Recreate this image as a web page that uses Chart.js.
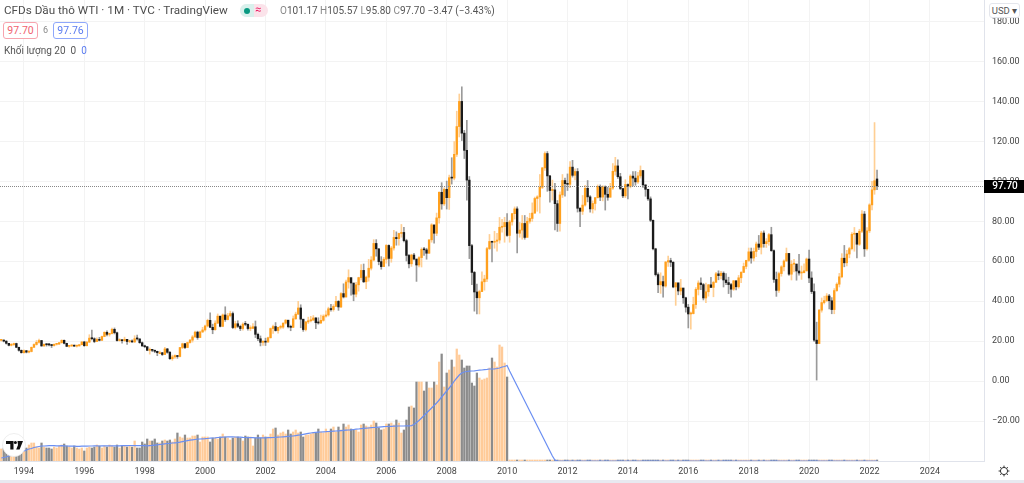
<!DOCTYPE html>
<html lang="vi">
<head>
    <meta charset="UTF-8">
    <title>CFDs Dầu thô WTI</title>
    <script src="https://cdn.jsdelivr.net/npm/chart.js"></script>
    <style>
        html, body { margin: 0; padding: 0; background: #fff; overflow: hidden; }
        body { width: 1024px; height: 483px; position: relative; font-family: Roboto, 'Liberation Sans', sans-serif; color: #4a4a4a; }
        canvas { position: absolute; left: 0; top: 0; }
        .txt { position: absolute; white-space: nowrap; }
        .title { left: 4px; top: 3px; font-size: 11.7px; line-height: 15px; color: #4d4d4d; }
        .ohlc { left: 280px; top: 4px; font-size: 10px; line-height: 14px; color: #555; }
        .ohlc i { font-style: normal; color: #888; }
        .pill { position: absolute; left: 240px; top: 4px; width: 28px; height: 13px; border-radius: 7px; overflow: hidden; background: #fbe3ea; }
        .pill .g { position: absolute; left: 0; top: 0; width: 14px; height: 13px; background: #d8f1ec; }
        .pill .d { position: absolute; left: 4px; top: 3.5px; width: 6px; height: 6px; border-radius: 50%; background: #089981; }
        .pill .w { position: absolute; left: 15px; top: -1px; font-size: 11px; line-height: 14px; color: #e91e63; }
        .box { position: absolute; top: 22px; width: 33px; height: 15px; border-radius: 3px; background: #fff; font-size: 10.5px; line-height: 15px; text-align: center; }
        .red { left: 3px; border: 1px solid #f7a4ae; color: #f0626f; }
        .blue { left: 53px; border: 1px solid #8fa8fb; color: #5b7cf0; }
        .spread { left: 43px; top: 24px; font-size: 9px; line-height: 12px; color: #888; }
        .vol { left: 4px; top: 44px; font-size: 10px; line-height: 13px; color: #555; }
        .vol b { font-weight: normal; color: #5b7cf0; }
        .usd { left: 989px; top: 3px; width: 29px; height: 13px; border: 1px solid #e4e6ec; border-radius: 3px; background: #fff; font-size: 9.5px; line-height: 13px; text-align: center; color: #555; }
        .strip { position: absolute; left: 0; top: 480px; width: 1024px; height: 3px; background: #e8e9f0; }
        .logo { position: absolute; left: 2px; top: 433px; width: 24px; height: 24px; }
        .gear { position: absolute; left: 998px; top: 465px; width: 12px; height: 12px; }
    </style>
</head>
<body>
    <canvas id="oilChart" width="1024" height="483"></canvas>

    <div class="txt title">CFDs Dầu thô WTI · 1M · TVC · TradingView</div>
    <div class="pill"><div class="g"></div><div class="d"></div><div class="w">≈</div></div>
    <div class="txt ohlc"><i>O</i>101.17 <i>H</i>105.57 <i>L</i>95.80 <i>C</i>97.70 −3.47 (−3.43%)</div>
    <div class="box red">97.70</div>
    <div class="txt spread">6</div>
    <div class="box blue">97.76</div>
    <div class="txt vol">Khối lượng 20 &nbsp;0 &nbsp;<b>0</b></div>
    <div class="txt usd">USD ▾</div>

    <svg class="logo" viewBox="0 0 24 24">
        <circle cx="12" cy="12" r="11.5" fill="#fff" stroke="#e6e6e6" stroke-width="0.7"/>
        <path d="M4 8h7.5v8.5H8.3V11H4z M15.5 8h5.5l-3.4 8.5h-3.4l1.8-4.6z" fill="#111"/>
        <circle cx="13.4" cy="9.6" r="1.5" fill="#111"/>
    </svg>
    <svg class="gear" viewBox="0 0 12 12" fill="none" stroke="#333" stroke-width="1">
        <circle cx="6" cy="6" r="3.6"/>
        <path d="M6 0.6v1.8M6 9.6v1.8M0.6 6h1.8M9.6 6h1.8M2.2 2.2l1.2 1.2M8.6 8.6l1.2 1.2M2.2 9.8l1.2-1.2M8.6 3.4l1.2-1.2"/>
    </svg>
    <div class="strip"></div>

    <script>
        // Monthly bars from Apr 1993 to Apr 2022, one row per year
        const opens = [
            20.4,20.5,20.0,18.9,17.9,18.3,18.8,16.9,15.4,
            14.2,15.2,14.5,14.8,16.9,18.3,19.4,20.3,17.6,18.4,18.2,18.1,
            17.8,18.4,18.5,19.2,20.4,18.9,17.4,17.6,17.8,17.5,17.6,18.2,
            19.6,17.7,19.5,21.5,21.2,19.8,20.9,20.4,22.3,24.4,23.4,23.8,
            25.9,24.2,20.3,20.4,20.2,20.9,19.8,20.1,19.6,21.2,21.1,19.2,
            17.6,17.2,15.4,15.6,15.4,14.9,14.2,14.2,13.3,16.1,14.4,11.2,
            12.1,12.8,12.3,16.8,18.7,16.8,19.3,20.5,22.1,24.5,21.8,24.6,
            25.6,27.6,30.4,26.9,25.7,29.0,32.5,27.4,33.1,30.8,32.7,33.8,
            26.8,28.7,27.4,26.3,28.5,28.4,26.3,26.4,27.2,23.4,21.2,19.4,
            19.8,19.5,21.7,26.3,27.3,25.3,26.9,27.0,29.0,30.5,27.2,26.9,
            31.2,33.5,36.6,31.0,25.8,29.6,30.2,30.5,31.6,29.2,29.1,30.4,
            32.5,33.1,36.2,35.8,37.4,39.9,37.1,43.8,42.1,49.6,51.8,49.1,
            43.5,48.2,51.8,55.4,49.7,52.0,56.5,60.6,68.9,66.2,59.8,57.3,
            61.0,67.9,61.4,66.6,71.9,71.3,73.9,74.4,70.3,62.9,58.7,63.1,
            61.1,58.1,61.8,65.9,65.7,64.0,70.7,78.2,74.0,81.7,94.5,88.7,
            96.0,91.8,101.8,101.6,113.5,127.4,140.0,124.1,115.5,100.6,67.8,54.4,
            44.6,41.7,44.8,49.7,51.1,66.3,69.9,69.5,70.0,70.6,77.0,77.3,
            79.4,72.9,79.7,83.8,86.2,74.0,75.6,78.9,71.9,80.0,81.4,84.1,
            91.4,92.2,97.0,106.7,113.9,102.7,95.4,95.7,88.8,78.9,93.2,100.4,
            98.8,98.5,107.1,103.0,104.9,86.5,85.0,88.1,96.5,92.2,86.2,88.9,
            91.8,97.5,92.1,97.2,93.5,92.0,96.6,105.0,107.7,102.3,96.4,92.7,
            98.4,97.5,102.6,101.6,99.7,102.7,105.4,98.2,96.0,91.2,80.5,66.2,
            53.3,48.2,49.8,47.6,59.6,60.3,59.5,47.1,49.2,45.1,46.6,41.7,
            37.0,33.6,33.8,38.3,45.9,49.1,48.3,41.6,44.7,48.2,46.9,49.4,
            53.7,52.8,54.0,50.6,49.3,48.3,46.0,50.2,47.2,51.7,54.4,57.4,
            60.4,64.7,61.6,64.9,68.6,67.0,74.1,68.8,69.8,73.3,65.3,50.9,
            45.4,53.8,57.2,60.1,63.9,53.5,58.5,58.6,55.1,54.1,54.2,55.2,
            61.1,51.6,44.8,20.5,18.8,35.5,39.3,40.3,42.6,40.2,35.8,45.3,
            48.5,52.2,61.5,59.2,63.6,66.3,73.5,74.0,68.5,75.0,83.6,66.2,
            75.2,88.2,95.7,101.17
        ];
        const highs = [
            20.8,20.7,20.2,18.9,18.8,19.0,19.0,17.0,15.6,
            15.6,15.4,15.2,17.1,18.6,20.3,21.0,20.4,18.6,18.7,18.9,18.2,
            18.7,18.9,19.4,20.7,20.6,19.0,17.9,18.1,18.0,17.9,18.4,19.7,
            19.9,19.9,23.2,25.5,21.7,21.6,21.9,22.5,24.7,25.2,24.0,26.5,
            26.6,24.5,21.2,20.8,22.0,20.9,20.5,20.6,22.7,23.0,21.2,19.6,
            18.0,17.3,16.6,15.9,15.6,15.0,15.0,14.4,16.9,16.4,14.9,13.0,
            13.1,12.9,16.9,19.0,18.9,19.5,20.9,22.8,25.0,25.0,25.0,26.9,
            28.0,31.0,34.2,28.5,30.2,33.6,32.5,33.6,37.2,33.9,35.0,34.6,
            30.0,30.2,28.0,29.2,29.9,28.6,27.7,28.8,30.1,24.0,22.6,20.3,
            21.5,22.0,26.6,28.0,29.3,27.0,28.0,29.2,30.8,30.2,28.0,32.6,
            34.5,39.9,38.2,30.7,29.9,32.0,32.4,32.8,31.8,31.7,33.0,33.2,
            35.2,37.0,38.4,38.3,42.4,40.3,44.3,48.7,50.5,55.7,50.8,46.0,
            49.4,52.0,58.3,58.6,52.5,60.9,62.3,70.8,70.8,66.3,62.3,61.9,
            68.4,68.2,67.4,75.4,74.7,74.1,78.4,76.9,71.0,63.5,63.5,64.0,
            58.5,62.3,66.7,67.0,66.5,70.7,78.8,76.0,84.1,94.7,99.3,96.8,
            100.1,103.1,111.8,119.9,135.1,143.7,147.3,125.5,130.5,102.4,68.5,54.9,
            48.6,45.5,54.7,53.0,66.9,73.4,69.9,75.0,73.9,81.9,81.0,82.0,
            83.9,80.5,84.0,87.2,87.2,79.4,82.9,82.9,82.0,84.0,89.2,92.1,
            92.8,103.4,107.0,114.8,114.9,103.0,100.6,99.0,90.4,94.7,103.4,101.6,
            103.7,109.9,110.5,106.2,106.4,86.9,92.9,98.0,100.4,92.8,90.2,91.9,
            98.2,98.2,97.8,97.7,97.0,99.0,108.9,112.0,110.7,104.0,95.5,100.8,
            98.7,103.3,104.9,104.9,104.5,107.7,105.4,98.2,95.7,92.2,80.6,66.5,
            54.2,54.2,52.5,59.9,62.6,61.5,59.7,49.3,48.4,50.9,43.4,42.0,
            38.4,34.6,42.0,46.8,50.2,51.7,48.9,49.0,48.4,51.9,50.0,54.4,
            55.2,54.9,54.7,53.8,52.0,48.9,50.4,50.2,52.9,54.8,59.1,60.5,
            66.6,66.6,66.6,69.6,72.9,75.0,75.2,71.3,73.9,77.0,65.7,54.6,
            54.6,57.8,60.7,66.6,63.9,60.3,60.9,57.5,63.4,57.6,58.7,61.6,
            65.6,54.7,48.7,29.5,35.9,41.6,42.5,43.8,43.4,41.8,46.3,49.2,
            53.9,63.8,67.9,65.5,67.0,74.3,76.9,74.0,76.0,85.4,84.9,76.8,
            88.8,100.0,129.4,105.57
        ];
        const lows = [
            20.0,19.6,18.5,17.6,17.6,17.8,16.7,15.0,14.0,
            14.0,14.1,14.1,14.6,16.8,18.0,19.0,17.4,17.3,17.5,17.6,16.8,
            17.5,18.0,18.3,19.0,18.6,17.2,16.9,17.3,17.3,17.0,17.5,18.1,
            17.4,17.6,19.3,20.6,19.2,19.7,20.1,20.3,22.2,22.6,22.5,23.6,
            23.6,20.0,20.0,19.0,19.9,18.3,19.2,19.3,19.3,20.5,18.9,17.4,
            16.7,15.2,13.5,14.7,14.2,12.7,13.9,12.8,13.2,13.9,10.8,10.4,
            11.3,11.4,12.1,16.2,16.2,16.7,19.0,19.5,21.8,20.9,21.7,24.3,
            25.0,27.1,26.8,23.7,25.5,28.8,27.1,27.2,29.9,30.6,32.1,26.2,
            26.0,26.8,25.3,25.5,27.7,25.5,25.2,26.2,21.8,20.2,17.6,17.9,
            17.8,19.6,21.5,23.8,25.0,24.0,26.1,26.3,28.5,26.6,25.2,26.8,
            30.9,33.3,26.7,24.9,25.1,28.8,29.6,30.4,26.2,28.5,28.7,30.0,
            32.0,32.5,35.0,35.0,37.4,35.4,36.8,41.6,42.0,46.5,43.0,40.2,
            42.1,45.0,50.6,49.3,46.2,50.0,55.6,60.1,62.5,58.2,56.0,57.5,
            59.0,57.6,59.5,65.5,68.0,68.0,72.0,69.6,60.1,56.6,57.4,60.6,
            49.9,57.2,57.1,62.9,61.0,63.9,69.5,69.0,72.8,79.0,86.0,87.9,
            86.1,85.9,98.6,100.7,112.4,122.2,120.4,111.4,90.5,61.3,48.3,35.0,
            33.6,33.6,44.9,45.5,49.8,65.8,59.6,66.5,65.0,69.0,74.5,69.5,
            72.4,69.5,78.0,81.1,64.2,72.0,71.0,71.0,72.9,79.0,79.9,83.9,
            85.0,84.1,96.3,105.5,95.0,89.6,90.6,75.7,74.9,75.0,91.9,92.5,
            95.4,96.8,102.1,100.7,84.6,77.3,83.4,87.5,89.7,84.6,84.1,85.6,
            91.6,90.3,90.2,85.6,90.5,92.2,95.9,103.1,101.4,95.8,91.8,91.8,
            91.2,96.7,97.7,98.0,98.9,101.6,96.9,92.5,90.4,79.8,65.7,52.6,
            44.2,43.9,42.0,47.0,57.4,57.3,46.7,37.9,43.2,43.2,38.9,34.5,
            26.6,26.0,33.6,36.4,43.1,45.8,40.6,39.2,42.5,46.8,42.2,49.9,
            50.7,51.2,47.1,48.2,43.8,42.0,45.4,45.6,46.5,49.2,54.3,56.2,
            59.8,59.0,60.1,62.3,65.8,63.6,67.0,66.9,68.0,64.9,49.4,42.4,
            44.4,52.5,55.1,59.9,52.9,50.6,54.6,50.5,53.0,50.9,54.8,55.0,
            49.3,43.8,19.9,0.5,18.7,34.5,38.6,39.7,36.1,33.7,33.7,44.9,
            47.1,51.7,57.2,57.6,61.7,65.7,65.0,61.7,67.9,74.3,62.4,65.5,
            74.3,85.7,93.5,95.8
        ];
        const closes = [
            20.5,20.0,18.9,17.9,18.3,18.8,16.9,15.4,14.2,
            15.2,14.5,14.8,16.9,18.3,19.4,20.3,17.6,18.4,18.2,18.1,17.8,
            18.4,18.5,19.2,20.4,18.9,17.4,17.6,17.8,17.5,17.6,18.2,19.6,
            17.7,19.5,21.5,21.2,19.8,20.9,20.4,22.3,24.4,23.4,23.8,25.9,
            24.2,20.3,20.4,20.2,20.9,19.8,20.1,19.6,21.2,21.1,19.2,17.6,
            17.2,15.4,15.6,15.4,14.9,14.2,14.2,13.3,16.1,14.4,11.2,12.1,
            12.8,12.3,16.8,18.7,16.8,19.3,20.5,22.1,24.5,21.8,24.6,25.6,
            27.6,30.4,26.9,25.7,29.0,32.5,27.4,33.1,30.8,32.7,33.8,26.8,
            28.7,27.4,26.3,28.5,28.4,26.3,26.4,27.2,23.4,21.2,19.4,19.8,
            19.5,21.7,26.3,27.3,25.3,26.9,27.0,29.0,30.5,27.2,26.9,31.2,
            33.5,36.6,31.0,25.8,29.6,30.2,30.5,31.6,29.2,29.1,30.4,32.5,
            33.1,36.2,35.8,37.4,39.9,37.1,43.8,42.1,49.6,51.8,49.1,43.5,
            48.2,51.8,55.4,49.7,52.0,56.5,60.6,68.9,66.2,59.8,57.3,61.0,
            67.9,61.4,66.6,71.9,71.3,73.9,74.4,70.3,62.9,58.7,63.1,61.1,
            58.1,61.8,65.9,65.7,64.0,70.7,78.2,74.0,81.7,94.5,88.7,96.0,
            91.8,101.8,101.6,113.5,127.4,140.0,124.1,115.5,100.6,67.8,54.4,44.6,
            41.7,44.8,49.7,51.1,66.3,69.9,69.5,70.0,70.6,77.0,77.3,79.4,
            72.9,79.7,83.8,86.2,74.0,75.6,78.9,71.9,80.0,81.4,84.1,91.4,
            92.2,97.0,106.7,113.9,102.7,95.4,95.7,88.8,78.9,93.2,100.4,98.8,
            98.5,107.1,103.0,104.9,86.5,85.0,88.1,96.5,92.2,86.2,88.9,91.8,
            97.5,92.1,97.2,93.5,92.0,96.6,105.0,107.7,102.3,96.4,92.7,98.4,
            97.5,102.6,101.6,99.7,102.7,105.4,98.2,96.0,91.2,80.5,66.2,53.3,
            48.2,49.8,47.6,59.6,60.3,59.5,47.1,49.2,45.1,46.6,41.7,37.0,
            33.6,33.8,38.3,45.9,49.1,48.3,41.6,44.7,48.2,46.9,49.4,53.7,
            52.8,54.0,50.6,49.3,48.3,46.0,50.2,47.2,51.7,54.4,57.4,60.4,
            64.7,61.6,64.9,68.6,67.0,74.1,68.8,69.8,73.3,65.3,50.9,45.4,
            53.8,57.2,60.1,63.9,53.5,58.5,58.6,55.1,54.1,54.2,55.2,61.1,
            51.6,44.8,20.5,18.8,35.5,39.3,40.3,42.6,40.2,35.8,45.3,48.5,
            52.2,61.5,59.2,63.6,66.3,73.5,74.0,68.5,75.0,83.6,66.2,75.2,
            88.2,95.7,100.3,97.70
        ];

        // Volume pane has no labels, so values are in chart pixels above the baseline
        const volumes = [
            12,13,13,14,12,15,14,15,13,
            10,13,16,18,18,14,13,18,14,13,13,12,
            14,13,15,16,17,15,14,13,15,13,12,13,
            10,13,14,13,14,16,15,13,15,14,16,15,
            14,16,13,15,15,14,15,14,20,13,13,19,
            17,22,20,20,22,18,18,20,21,20,21,19,
            22,28,24,23,26,23,23,25,25,26,19,24,
            24,24,19,23,23,22,24,27,24,23,21,23,
            24,24,23,20,25,24,24,15,23,26,23,26,
            24,24,27,32,33,26,28,29,27,31,27,29,
            31,28,29,24,26,26,27,28,28,32,29,28,
            32,29,32,34,29,34,31,37,34,36,32,31,
            31,29,36,37,35,34,36,40,38,33,31,32,
            37,37,38,36,41,38,28,31,41,54,55,53,
            79,79,79,70,79,73,73,79,76,99,107,74,
            88,91,101,94,112,106,101,93,95,95,78,75,
            88,83,81,82,83,93,103,99,94,116,114,98,
            84,0,0,0,0,0,0,0,0,0,0,0,
            0,0,0,0,0,0,0,0,0,0,0,0,
            0,0,0,0,0,0,0,0,0,0,0,0,
            0,0,0,0,0,0,0,0,0,0,0,0,
            0,0,0,0,0,0,0,0,0,0,0,0,
            0,0,0,0,0,0,0,0,0,0,0,0,
            0,0,0,0,0,0,0,0,0,0,0,0,
            0,0,0,0,0,0,0,0,0,0,0,0,
            0,0,0,0,0,0,0,0,0,0,0,0,
            0,0,0,0,0,0,0,0,0,0,0,0,
            0,0,0,0,0,0,0,0,0,0,0,0,
            0,0,0,0,0,0,0,0,0,0,0,0,
            0,0,0,0
        ];
        const volumeMa = [
            3,3.5,4,5,5.5,6.5,7,8,9,
            10,11,12,12.5,13.5,14,14.5,15,15,15.2,15.3,15.3,
            15.3,15.2,15.2,15.3,15.2,15,14.9,14.8,14.8,14.7,14.7,14.8,
            14.8,14.9,15,15,15.1,15.1,15,15.1,15.2,15.2,15.1,15.2,
            15.2,15.1,15.2,15.3,15.4,15.4,15.5,15.5,15.4,15.4,15.3,15.3,
            15.3,15.2,15.4,15.6,15.9,16.2,16.5,16.8,17.2,17.5,17.7,18,
            18.2,18.4,18.8,19.3,19.8,20.3,20.8,21.2,21.5,21.8,22,22.2,
            22.3,22.5,22.8,23,23.2,23.5,23.7,23.9,24,24.1,24.1,24.1,
            24,23.9,23.8,23.6,23.5,23.4,23.3,23.3,23.2,23.2,23.2,23.2,
            23.2,23.3,23.4,23.5,23.7,23.9,24,24.2,24.4,24.6,24.8,25,
            25.4,25.8,26.2,26.7,27.2,27.6,28,28.3,28.6,28.8,29,29.2,
            29.3,29.5,29.7,29.9,30,30.2,30.4,30.6,30.8,31,31.2,31.5,
            31.8,32,32.3,32.6,32.8,33,33.3,33.5,33.7,33.9,34.1,34.3,
            34.5,34.6,34.7,34.8,34.9,35,35,35,35.1,35.2,35.4,36.5,
            38.5,40.5,43,45.5,48,50.5,53,55.5,58,61,64,67,
            70,73,76,80,83,86,88,89,89.5,89.8,90,90.2,
            90.5,90.8,91,91.3,91.6,92,92,92.2,92.5,93,94,94.5,
            95.5,90,85,80,75,70,65,60,55,50,45,40,
            35,30,25,20,15,10,5,1,0,0,0,0,
            0,0,0,0,0,0,0,0,0,0,0,0,
            0,0,0,0,0,0,0,0,0,0,0,0,
            0,0,0,0,0,0,0,0,0,0,0,0,
            0,0,0,0,0,0,0,0,0,0,0,0,
            0,0,0,0,0,0,0,0,0,0,0,0,
            0,0,0,0,0,0,0,0,0,0,0,0,
            0,0,0,0,0,0,0,0,0,0,0,0,
            0,0,0,0,0,0,0,0,0,0,0,0,
            0,0,0,0,0,0,0,0,0,0,0,0,
            0,0,0,0,0,0,0,0,0,0,0,0,
            0,0,0,0
        ];

        const priceTicks = [-20, 0, 20, 40, 60, 80, 100, 120, 140, 160, 180];
        const yearTicks = [1994, 1996, 1998, 2000, 2002, 2004, 2006, 2008, 2010, 2012, 2014, 2016, 2018, 2020, 2022, 2024];
        const lastPrice = 97.70;

        // One category per month, the axis runs on past the last bar to Oct 2025
        const categories = [];
        for (let y = 1993; y <= 2025; y++) {
            for (let m = 1; m <= 12; m++) {
                if ((y === 1993 && m < 4) || (y === 2025 && m > 10)) continue;
                categories.push(y + '-' + String(m).padStart(2, '0'));
            }
        }

        const isUp = i => closes[i] >= opens[i];

        // Dotted last price line and the black tag on the price axis
        const lastPricePlugin = {
            id: 'lastPrice',
            afterDraw(chart) {
                const ctx = chart.ctx;
                const area = chart.chartArea;
                const y = chart.scales.y.getPixelForValue(lastPrice);
                ctx.save();
                ctx.strokeStyle = '#888';
                ctx.lineWidth = 1;
                ctx.setLineDash([1, 1]);
                ctx.beginPath();
                ctx.moveTo(area.left, Math.round(y) + 0.5);
                ctx.lineTo(area.right, Math.round(y) + 0.5);
                ctx.stroke();
                ctx.setLineDash([]);
                ctx.fillStyle = '#000';
                ctx.fillRect(area.right, Math.round(y) - 6, 40, 13);
                ctx.fillStyle = '#fff';
                ctx.font = '500 10px Roboto, sans-serif';
                ctx.textAlign = 'center';
                ctx.textBaseline = 'middle';
                ctx.fillText(lastPrice.toFixed(2), area.right + 21, Math.round(y) + 0.5);
                ctx.restore();
            }
        };

        new Chart(document.getElementById('oilChart'), {
            data: {
                labels: categories,
                datasets: [
                    {
                        type: 'bar',
                        label: 'Thân nến',
                        data: opens.map((o, i) => [o, closes[i]]),
                        backgroundColor: opens.map((o, i) => isUp(i) ? '#ffa01e' : '#1a1a1a'),
                        barThickness: 1.7,
                        minBarLength: 1,
                        grouped: false,
                        order: 1
                    },
                    {
                        type: 'bar',
                        label: 'Bấc nến',
                        data: lows.map((l, i) => [l, highs[i]]),
                        backgroundColor: opens.map((o, i) => isUp(i) ? '#ffcf94' : '#9a9a9a'),
                        barThickness: 1,
                        grouped: false,
                        order: 2
                    },
                    {
                        type: 'line',
                        label: 'Khối lượng MA 20',
                        data: volumeMa,
                        yAxisID: 'yVolume',
                        borderColor: '#6b8ff2',
                        borderWidth: 1.2,
                        pointRadius: 0,
                        order: 3
                    },
                    {
                        type: 'bar',
                        label: 'Khối lượng',
                        data: volumes,
                        yAxisID: 'yVolume',
                        backgroundColor: opens.map((o, i) => isUp(i) ? '#ffcb99' : '#8c8c8c'),
                        barThickness: 1.6,
                        minBarLength: 1,
                        grouped: false,
                        order: 4
                    }
                ]
            },
            options: {
                responsive: false,
                animation: false,
                layout: { padding: 0, autoPadding: false },
                plugins: {
                    legend: { display: false },
                    tooltip: { enabled: false }
                },
                scales: {
                    x: {
                        type: 'category',
                        offset: true,
                        grid: { offset: false, color: '#f3f3f3', drawTicks: false },
                        border: { color: '#e0e3eb' },
                        afterBuildTicks: scale => {
                            scale.ticks = yearTicks.map(y => ({ value: categories.indexOf(y + '-01') }));
                        },
                        afterFit: scale => {
                            scale.height = 22;
                            scale.paddingLeft = 0;
                            scale.paddingRight = 0;
                        },
                        ticks: {
                            autoSkip: false,
                            maxRotation: 0,
                            padding: 5,
                            color: '#444',
                            font: { family: 'Roboto, sans-serif', size: 9 },
                            callback: value => categories[value].slice(0, 4)
                        }
                    },
                    y: {
                        position: 'right',
                        min: -40,
                        max: 190.75,
                        grid: { color: '#f3f3f3', drawTicks: false },
                        border: { color: '#e0e3eb' },
                        afterBuildTicks: scale => {
                            scale.ticks = priceTicks.map(v => ({ value: v }));
                        },
                        afterFit: scale => {
                            scale.width = 40;
                            scale.paddingTop = 0;
                            scale.paddingBottom = 0;
                        },
                        ticks: {
                            padding: 8,
                            color: '#444',
                            font: { family: 'Roboto, sans-serif', size: 9 },
                            callback: value => value.toFixed(2).replace('-', '−')
                        }
                    },
                    yVolume: {
                        display: false,
                        min: 0,
                        max: 461
                    }
                }
            },
            plugins: [lastPricePlugin]
        });
    </script>
</body>
</html>
